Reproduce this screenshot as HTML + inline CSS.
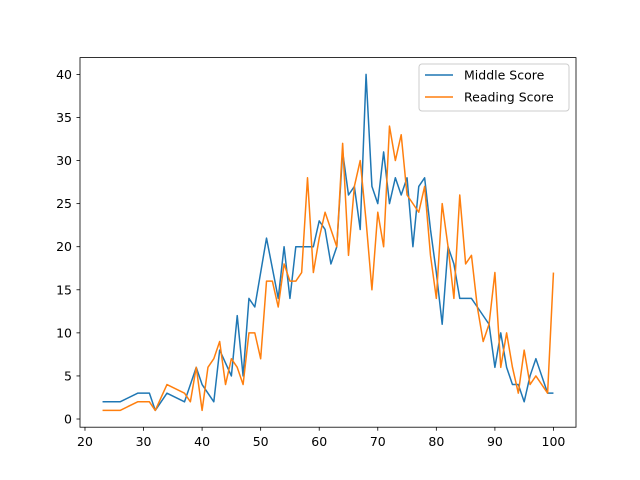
<!DOCTYPE html>
<html><head><meta charset="utf-8"><style>
body{margin:0;background:#fff}
svg{display:block;font-family:"DejaVu Sans","Liberation Sans",sans-serif}
</style></head><body>
<svg id="chart" width="640" height="480" viewBox="0 0 640 480">
<rect width="640" height="480" fill="#fff"/>
<g id="plot"></g>
<rect x="80" y="57.6" width="496" height="369.6" fill="none" stroke="#000" stroke-width="0.8"/>
<g id="ticks"></g>
<g>
<rect x="419" y="64" width="150" height="47" rx="3" fill="#fff" fill-opacity="0.8" stroke="#ccc"/>
<line x1="425" y1="75" x2="453" y2="75" stroke="#1f77b4" stroke-width="1.5"/>
<text x="464" y="79.5" font-size="12.5">Middle Score</text>
<line x1="425" y1="97" x2="453" y2="97" stroke="#ff7f0e" stroke-width="1.5"/>
<text x="464" y="101.5" font-size="12.5">Reading Score</text>
</g>
</svg>
<script>
const middleX=[23,26,29,31,32,34,37,39,40,42,43,45,46,47,48,49,51,53,54,55,56,58,59,60,61,62,63,64,65,66,67,68,69,70,71,72,73,74,75,76,77,78,79,80,81,82,83,84,86,87,89,90,91,92,93,94,95,96,97,98,99,100];
const middleY=[2,2,3,3,1,3,2,6,4,2,8,5,12,5,14,13,21,14,20,14,20,20,20,23,22,18,20,31,26,27,22,40,27,25,31,25,28,26,28,20,27,28,22,17,11,20,18,14,14,13,11,6,10,6,4,4,2,5,7,5,3,3];
const readingX=[23,26,29,31,32,34,37,38,39,40,41,42,43,44,45,46,47,48,49,50,51,52,53,54,55,56,57,58,59,60,61,62,63,64,65,66,67,68,69,70,71,72,73,74,75,76,77,78,79,80,81,82,83,84,85,86,87,88,89,90,91,92,93,94,95,96,97,98,99,100];
const readingY=[1,1,2,2,1,4,3,2,6,1,6,7,9,4,7,6,4,10,10,7,16,16,13,18,16,16,17,28,17,21,24,22,20,32,19,27,30,23,15,24,20,34,30,33,26,25,24,27,19,14,25,20,14,26,18,19,13,9,11,17,6,10,6,3,8,4,5,4,3,17];
const xTicks=[20,30,40,50,60,70,80,90,100];
const yTicks=[0,5,10,15,20,25,30,35,40];
const X0=19.15,X1=103.85,Y0=-0.95,Y1=41.95;
const sx=v=>80+(v-X0)/(X1-X0)*496;
const sy=v=>427.2-(v-Y0)/(Y1-Y0)*369.6;
const NS="http://www.w3.org/2000/svg";
const plot=document.getElementById('plot'),ticks=document.getElementById('ticks');
function line(xs,ys,color,name){
  const p=document.createElementNS(NS,'polyline');
  p.setAttribute('points',xs.map((x,i)=>sx(x)+','+sy(ys[i])).join(' '));
  p.setAttribute('fill','none');p.setAttribute('stroke',color);p.setAttribute('stroke-width','1.5');
  p.setAttribute('stroke-linejoin','round');
  
  
  plot.appendChild(p);
}
line(middleX,middleY,'#1f77b4','middle-score-line');
line(readingX,readingY,'#ff7f0e','reading-score-line');
xTicks.forEach(t=>{
  const x=sx(t);
  const l=document.createElementNS(NS,'line');
  l.setAttribute('x1',x);l.setAttribute('x2',x);l.setAttribute('y1',427.2);l.setAttribute('y2',430.7);l.setAttribute('stroke','#000');l.setAttribute('stroke-width','0.8');
  ticks.appendChild(l);
  const tx=document.createElementNS(NS,'text');
  tx.setAttribute('x',x);tx.setAttribute('y',446);tx.setAttribute('text-anchor','middle');tx.setAttribute('font-size','12.5');
  tx.textContent=t;
  
  
  ticks.appendChild(tx);
});
yTicks.forEach(t=>{
  const y=sy(t);
  const l=document.createElementNS(NS,'line');
  l.setAttribute('x1',76.5);l.setAttribute('x2',80);l.setAttribute('y1',y);l.setAttribute('y2',y);l.setAttribute('stroke','#000');l.setAttribute('stroke-width','0.8');
  ticks.appendChild(l);
  const tx=document.createElementNS(NS,'text');
  tx.setAttribute('x',72);tx.setAttribute('y',y+4.5);tx.setAttribute('text-anchor','end');tx.setAttribute('font-size','12.5');
  tx.textContent=t;
  
  
  ticks.appendChild(tx);
});
</script>
</body></html>
